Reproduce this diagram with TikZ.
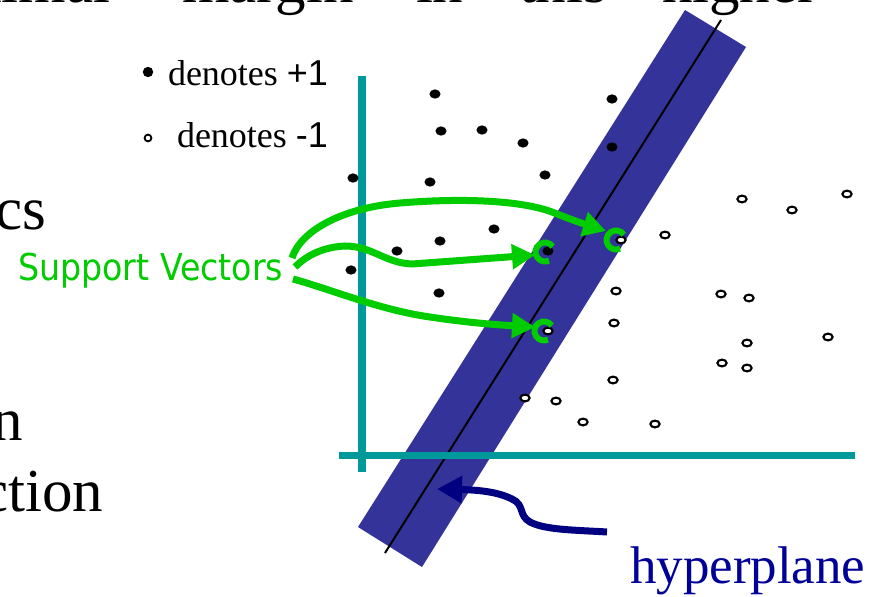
\documentclass[tikz,border=0pt]{standalone}
\usepackage{fontspec}
\setmainfont{Liberation Serif}
\newfontfamily\arialf{Liberation Sans}
\newfontfamily\svfont{DejaVu Sans Condensed}
\usetikzlibrary{arrows.meta}
\definecolor{bandblue}{HTML}{333399}
\definecolor{axisteal}{HTML}{009999}
\definecolor{svgreen}{HTML}{00CC00}
\definecolor{navyarrow}{HTML}{000080}
\definecolor{navytext}{HTML}{000099}
\begin{document}
\begin{tikzpicture}[x=1pt,y=-1pt,
  txt/.style={anchor=base west, inner sep=0pt, outer sep=0pt},
  txtr/.style={anchor=base east, inner sep=0pt, outer sep=0pt},
  bigserif/.style={font=\fontsize{61}{61}\selectfont},
  posdot/.style={fill=black},
  negdot/.style={draw=black, fill=white, line width=2.1pt},
  axisline/.style={draw=axisteal, line width=7.5pt},
  svarrow/.style={draw=svgreen, line width=7pt, -{Triangle[length=23pt,width=24pt]}},
  svhook/.style={draw=svgreen, line width=6pt},
  hyparrow/.style={draw=navyarrow, line width=7pt, -{Triangle[length=25pt,width=26pt]}}
]
\useasboundingbox (0,0) rectangle (879,597);
\fill[white] (0,0) rectangle (879,597);

% margin band and hyperplane
\fill[bandblue] (685,10) -- (746,47) -- (422,567) -- (358,527) -- cycle;
\draw[line width=2pt] (721,20) -- (385,553);

% axes
\draw[axisline] (362,76) -- (362,472);
\draw[axisline] (339,455.5) -- (855,455.5);

% positive points
\foreach \p in {(435,94),(612,99),(441,131),(482,130),(523,143),(612,147),
  (353,178),(430,182),(545,175),(494,229),(440,241),(397,251),(351,270),
  (439,293),(548,251)}
  \fill[posdot] \p ellipse (5.6 and 4.6);

% negative points
\foreach \p in {(742,199),(792,210),(847,194),(665,235),(621,240),(616,291),
  (721,294),(749,298),(614,323),(828,337),(747,343),(722,363),(747,368),
  (613,380),(525,398),(556,401),(583,422),(655,424),(548,331)}
  \filldraw[negdot] \p ellipse (4.6 and 3.4);

% legend
\fill[posdot] (148,72) circle (5.2);
\filldraw[negdot, line width=1.8pt] (148,138) circle (3.4);
\node[txt, font=\fontsize{36}{36}\selectfont] (legpos) at (168,85) {denotes {\arialf +1}};
\node[txt, font=\fontsize{36}{36}\selectfont] (legneg) at (177,147) {denotes {\arialf -1}};

% support vector label and arrows
\node[txt, text=svgreen, font=\svfont\fontsize{37}{37}\selectfont] (svlabel) at (18,280) {Support Vectors};
\coordinate (ua) at (292,258);
\coordinate (ub) at (606,231);
\coordinate (ma) at (295,267);
\coordinate (mb) at (535,255);
\coordinate (la) at (293,279);
\coordinate (lb) at (535,327);
\draw[svarrow] (ua) .. controls (300,232) and (340,208) .. (400,203)
  .. controls (460,198) and (520,200) .. (552,212)
  .. controls (572,220) and (590,226) .. (ub);
\draw[svarrow] (ma) .. controls (308,254) and (325,247) .. (345,246)
  .. controls (372,246) and (385,263) .. (412,264) -- (mb);
\draw[svarrow] (la) .. controls (330,289) and (380,310) .. (430,317)
  .. controls (470,323) and (500,325) .. (lb);

% hooks around support vectors
\draw[svhook] (616,240) ++(-35:9.5) arc[start angle=-35, end angle=-295, radius=9.5];
\draw[svhook] (545,252) ++(-35:9.5) arc[start angle=-35, end angle=-295, radius=9.5];
\draw[svhook] (544,331) ++(-35:9.5) arc[start angle=-35, end angle=-295, radius=9.5];

% hyperplane label and arrow
\node[txt, text=navytext, font=\fontsize{53}{53}\selectfont] (hyp) at (630,583) {hyperplane};
\coordinate (ha) at (607,532);
\coordinate (hb) at (437,489);
\draw[hyparrow] (ha) .. controls (575,530) and (545,530) .. (530,522)
  .. controls (518,515) and (525,505) .. (512,499)
  .. controls (498,492) and (480,490) .. (hb);

% clipped slide text
\begin{scope}
\clip (0,0) rectangle (879,597);
\node[txtr, bigserif] (t0) at (110,2.5) {maximal};
\node[txt, bigserif] (t1) at (182,2.5) {margin};
\node[txt, bigserif] (t2) at (416,2.5) {in};
\node[txt, bigserif] (t3) at (519,2.5) {this};
\node[txt, bigserif] (t4) at (662,2.5) {higher};
\node[txtr, bigserif] (l1) at (46,229) {cs};
\node[txtr, bigserif] (l2) at (23,440) {n};
\node[txtr, bigserif] (l3) at (103,511) {ction};
\end{scope}
\end{tikzpicture}
\end{document}
